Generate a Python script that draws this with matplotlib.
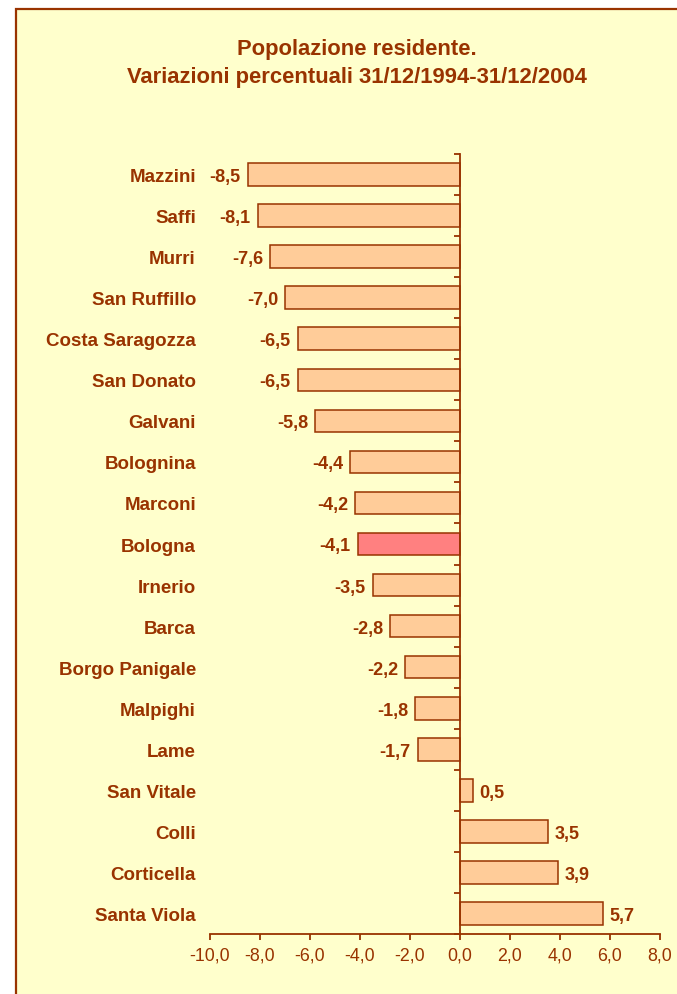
import matplotlib
matplotlib.use("Agg")
import matplotlib.pyplot as plt
from matplotlib.patches import Rectangle
from matplotlib.ticker import FuncFormatter
import matplotlib.transforms as mtrans

# quartieri / zone, from top to bottom
zones = ["Mazzini", "Saffi", "Murri", "San Ruffillo", "Costa Saragozza",
         "San Donato", "Galvani", "Bolognina", "Marconi", "Bologna",
         "Irnerio", "Barca", "Borgo Panigale", "Malpighi", "Lame",
         "San Vitale", "Colli", "Corticella", "Santa Viola"]
variation = [-8.5, -8.1, -7.6, -7.0, -6.5, -6.5, -5.8, -4.4, -4.2, -4.1,
             -3.5, -2.8, -2.2, -1.8, -1.7, 0.5, 3.5, 3.9, 5.7]
value_labels = ["-8,5", "-8,1", "-7,6", "-7,0", "-6,5", "-6,5", "-5,8", "-4,4",
                "-4,2", "-4,1", "-3,5", "-2,8", "-2,2", "-1,8", "-1,7",
                "0,5", "3,5", "3,9", "5,7"]
x_ticks = [-10, -8, -6, -4, -2, 0, 2, 4, 6, 8]

brown = "#993300"
plt.rcParams['font.family'] = ['Liberation Sans', 'DejaVu Sans']

fig = plt.figure(figsize=(6.77, 9.95), dpi=100)
fig.patch.set_facecolor("white")

# yellow frame, runs off the right and bottom edges
frame = Rectangle((16 / 677, -0.1), 1.2, (995 - 10) / 995 + 0.1,
                  transform=fig.transFigure, facecolor="#FFFFCC",
                  edgecolor=brown, linewidth=1.6, zorder=-1)
fig.patches.append(frame)

fig.text(357 / 677, 1 - 63.5 / 995,
         "Popolazione residente.\nVariazioni percentuali 31/12/1994-31/12/2004",
         ha="center", va="center", multialignment="center",
         fontsize=15.8, fontweight="bold", color=brown, linespacing=1.45)

ax = fig.add_axes([210 / 677, 60 / 995, 450 / 677, 780 / 995])
ax.set_facecolor("none")

pos = list(range(len(zones)))
colors = ["#FF8080" if z == "Bologna" else "#FFCC99" for z in zones]
ax.barh(pos, variation, height=0.55, color=colors, edgecolor=brown,
        linewidth=1.1, zorder=2)

ax.set_xlim(-10, 8)
ax.set_ylim(len(zones) - 0.5, -0.5)

for sp in ["top", "right"]:
    ax.spines[sp].set_visible(False)
ax.spines["left"].set_position(("data", 0))
ax.spines["left"].set_zorder(3)
for sp in ["left", "bottom"]:
    ax.spines[sp].set_color(brown)
    ax.spines[sp].set_linewidth(1.3)

ax.set_yticks([p - 0.5 for p in pos] + [len(zones) - 0.5])
ax.set_yticklabels([])
ax.tick_params(axis="y", direction="out", length=4, width=1.3, color=brown)

ax.set_xticks(x_ticks)
ax.xaxis.set_major_formatter(FuncFormatter(lambda v, p: f"{v:.1f}".replace(".", ",")))
ax.tick_params(axis="x", direction="out", length=4, width=1.3, color=brown,
               labelcolor=brown, labelsize=12.8, pad=5)

trans = mtrans.blended_transform_factory(ax.transAxes, ax.transData)
for p, name in zip(pos, zones):
    ax.text(-14 / 450, p, name, transform=trans, ha="right", va="center_baseline",
            fontsize=13.5, fontweight="bold", color=brown)

for p, v, lab in zip(pos, variation, value_labels):
    off = 5 if v > 0 else -5
    ax.annotate(lab, (v, p), xytext=(off, 0), textcoords="offset points",
                ha="left" if v > 0 else "right", va="center_baseline",
                fontsize=13, fontweight="bold", color=brown)

plt.savefig("out.png", dpi=100)
